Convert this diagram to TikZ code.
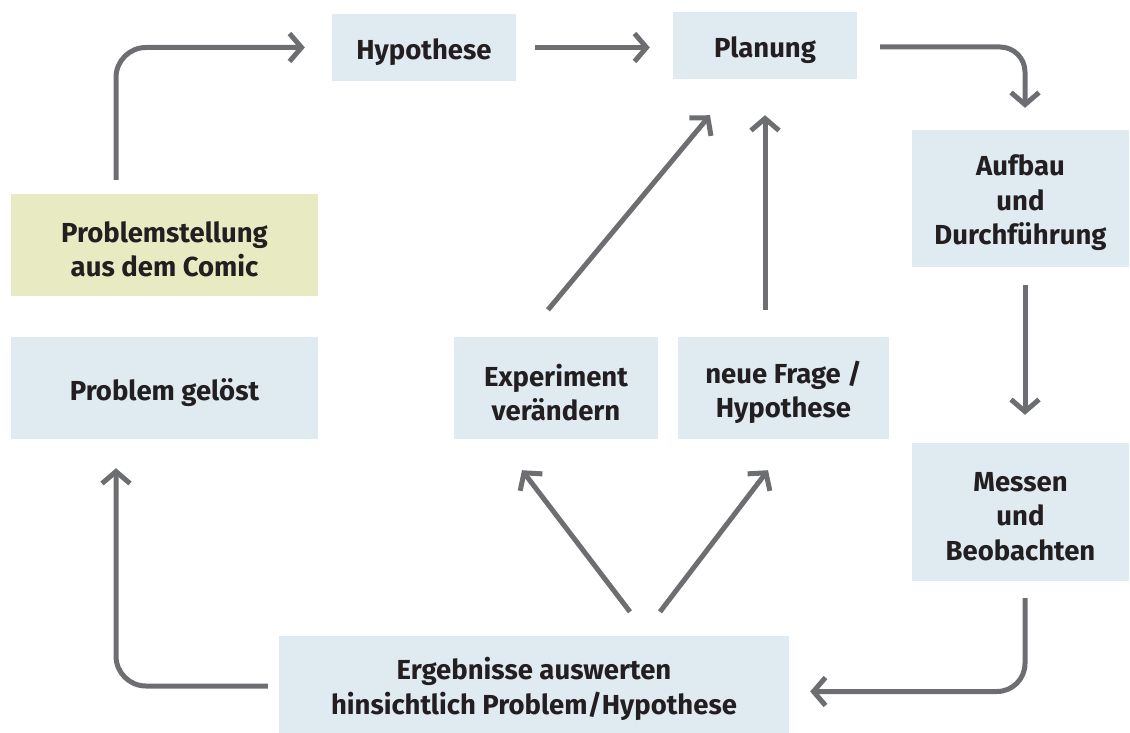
\documentclass[tikz,border=0pt]{standalone}
\usepackage{fontspec}
\setmainfont{Fira Sans}
\usetikzlibrary{arrows.meta}
\definecolor{boxblue}{HTML}{DFEAF1}
\definecolor{boxgreen}{HTML}{E8EBC2}
\definecolor{arrowgray}{HTML}{6D6E71}
\definecolor{textdark}{HTML}{231F20}
\tikzset{
  box/.style={fill=boxblue, inner sep=0pt},
  lbl/.style={text=textdark, align=center, inner sep=0pt, yshift=-4.5pt,
    font=\fontsize{27.5}{34.5}\selectfont\bfseries},
  flow/.style={draw=arrowgray, line width=5pt, rounded corners=30pt,
    -{Straight Barb[length=12pt,width=28pt]}}
}
\begin{document}
\begin{tikzpicture}[x=1pt,y=-1pt]
\useasboundingbox (0,0) rectangle (1130,733);
\node[box, minimum width=184pt, minimum height=67pt, label={[lbl]center:Hypothese}] (hyp) at (424,47.5) {};
\node[box, minimum width=184pt, minimum height=67pt, label={[lbl]center:Planung}] (plan) at (765,45.5) {};
\node[box, minimum width=217pt, minimum height=137pt, label={[lbl]center:Aufbau\\und\\Durchführung}] (auf) at (1020.5,198.5) {};
\node[box, minimum width=217pt, minimum height=138pt, label={[lbl]center:Messen\\und\\Beobachten}] (mes) at (1020.5,512) {};
\node[box, minimum width=510pt, minimum height=97pt, label={[lbl]center:Ergebnisse auswerten\\hinsichtlich Problem/Hypothese}] (erg) at (534,684.5) {};
\node[box, fill=boxgreen, minimum width=307pt, minimum height=102pt, label={[lbl]center:Problemstellung\\aus dem Comic}] (prob) at (164.5,245) {};
\node[box, minimum width=307pt, minimum height=102pt, label={[lbl]center:Problem gelöst}] (gel) at (164.5,388) {};
\node[box, minimum width=204pt, minimum height=102pt, label={[lbl]center:Experiment\\verändern}] (exp) at (556,388) {};
\node[box, minimum width=211pt, minimum height=102pt, label={[lbl]center:neue Frage /\\Hypothese}] (neu) at (783.5,388) {};

\draw[flow, shorten <=14pt, shorten >=27pt] ([xshift=-48.5pt]prob.north) |- (hyp.west);
\draw[flow, shorten <=19pt, shorten >=23pt] (hyp.east) -- (hyp.east -| plan.west);
\draw[flow, rounded corners=25pt, shorten <=23pt, shorten >=22pt] ([yshift=-1.5pt]plan.east) -| ([xshift=4.5pt]auf.north);
\draw[flow, shorten <=18pt, shorten >=28pt] ([xshift=4.5pt]auf.south) -- ([xshift=4.5pt]mes.north);
\draw[flow, rounded corners=28pt, shorten <=17pt, shorten >=21pt] ([xshift=4.5pt]mes.south) |- ([yshift=-7pt]erg.east);
\draw[flow, shorten <=11pt, shorten >=29pt] ([yshift=-1.5pt]erg.west) -| ([xshift=-48.5pt]gel.south);
\draw[flow] ([xshift=96pt,yshift=24pt]erg.north) -- ([xshift=-34pt,yshift=-31pt]exp.south);
\draw[flow] ([xshift=126pt,yshift=24pt]erg.north) -- ([xshift=-15.5pt,yshift=-31pt]neu.south);
\draw[flow] ([xshift=-8pt,yshift=27pt]exp.north) -- ([xshift=-55pt,yshift=-36pt]plan.south);
\draw[flow] ([xshift=-18.5pt,yshift=27pt]neu.north) -- ([yshift=-36pt]plan.south);
\end{tikzpicture}
\end{document}
